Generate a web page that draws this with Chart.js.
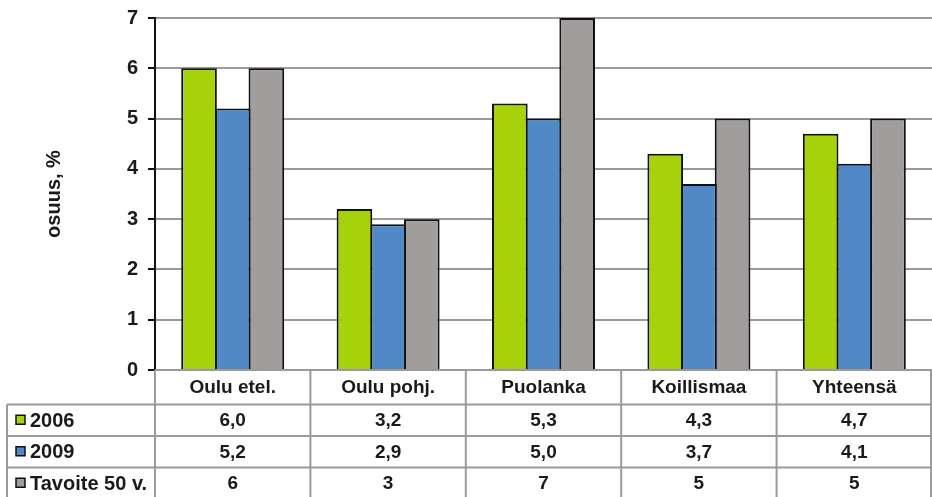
<!DOCTYPE html>
<html>
<head>
<meta charset="utf-8">
<script src="https://cdn.jsdelivr.net/npm/chart.js@4/dist/chart.umd.min.js"></script>
<style>
html,body{margin:0;padding:0;background:#fff;}
#wrap{position:relative;width:932px;height:497px;}
</style>
</head>
<body>
<div id="wrap"><canvas id="c" width="932" height="497"></canvas></div>
<script>
const categories = ["Oulu etel.", "Oulu pohj.", "Puolanka", "Koillismaa", "Yhteensä"];
const seriesNames = ["2006", "2009", "Tavoite 50 v."];
const values2006 = [6.0, 3.2, 5.3, 4.3, 4.7];
const values2009 = [5.2, 2.9, 5.0, 3.7, 4.1];
const valuesTarget = [6, 3, 7, 5, 5];
const tableLabels2006 = ["6,0", "3,2", "5,3", "4,3", "4,7"];
const tableLabels2009 = ["5,2", "2,9", "5,0", "3,7", "4,1"];
const tableLabelsTarget = ["6", "3", "7", "5", "5"];
const yTicks = [0, 1, 2, 3, 4, 5, 6, 7];
const yTitle = "osuus, %";

const colors = ["#a6d20c", "#5189c6", "#a09d9c"];
const FONT = "'Liberation Sans', Arial, sans-serif";

const tablePlugin = {
  id: 'dataTable',
  afterDraw(chart) {
    const ctx = chart.ctx;
    const area = chart.chartArea;
    const xs = chart.scales.x;
    const n = categories.length;
    const w = (area.right - area.left) / n;
    const top = area.bottom;
    const rowsY = [top, 404.5, 436, 467.5, 499];
    const legendLeft = 7;
    ctx.save();
    ctx.strokeStyle = '#9a9a9a';
    ctx.lineWidth = 2;
    ctx.beginPath();
    ctx.moveTo(area.left, top); ctx.lineTo(area.right, top);
    for (let r = 1; r < rowsY.length - 1; r++) {
      ctx.moveTo(legendLeft, rowsY[r]); ctx.lineTo(area.right, rowsY[r]);
    }
    for (let i = 0; i <= n; i++) {
      const x = Math.min(area.left + i * w, area.right - 1);
      ctx.moveTo(x, top); ctx.lineTo(x, 497);
    }
    ctx.moveTo(legendLeft, rowsY[1]); ctx.lineTo(legendLeft, 497);
    ctx.stroke();

    ctx.fillStyle = '#1a1a1a';
    ctx.font = 'bold 19px ' + FONT;
    ctx.textAlign = 'center';
    ctx.textBaseline = 'middle';
    const rows = [tableLabels2006, tableLabels2009, tableLabelsTarget];
    for (let i = 0; i < n; i++) {
      const cx = xs.getPixelForValue(i);
      ctx.fillText(categories[i], cx, (rowsY[0] + rowsY[1]) / 2 + 1);
      for (let r = 0; r < 3; r++) {
        ctx.fillText(rows[r][i], cx, (rowsY[r + 1] + rowsY[r + 2]) / 2 + 1);
      }
    }
    ctx.textAlign = 'left';
    ctx.font = 'bold 20px ' + FONT;
    for (let r = 0; r < 3; r++) {
      const cy = (rowsY[r + 1] + rowsY[r + 2]) / 2;
      ctx.fillStyle = colors[r];
      ctx.fillRect(16, cy - 5, 9, 9);
      ctx.strokeStyle = '#111';
      ctx.lineWidth = 1.5;
      ctx.strokeRect(16, cy - 5, 9, 9);
      ctx.fillStyle = '#1a1a1a';
      ctx.fillText(seriesNames[r], 30, cy + 1);
    }
    ctx.restore();
  }
};

new Chart(document.getElementById('c'), {
  type: 'bar',
  data: {
    labels: categories,
    datasets: [
      { label: seriesNames[0], data: values2006, backgroundColor: colors[0] },
      { label: seriesNames[1], data: values2009, backgroundColor: colors[1] },
      { label: seriesNames[2], data: valuesTarget, backgroundColor: colors[2] }
    ]
  },
  options: {
    responsive: false,
    animation: false,
    layout: { padding: { top: 18, bottom: 127, left: 0, right: 0 } },
    datasets: {
      bar: {
        borderColor: '#111',
        borderWidth: 2,
        categoryPercentage: 0.65,
        barPercentage: 1.059
      }
    },
    plugins: { legend: { display: false }, tooltip: { enabled: false } },
    scales: {
      x: { display: false, offset: true },
      y: {
        min: 0, max: 7,
        afterFit(scale) { scale.width = 155; scale.paddingTop = 0; scale.paddingBottom = 0; },
        afterBuildTicks(scale) { scale.ticks = yTicks.map(v => ({ value: v })); },
        grid: { color: '#9a9a9a', lineWidth: 2, tickColor: '#111', tickLength: 7, drawTicks: true },
        border: { color: '#111', width: 2 },
        ticks: {
          color: '#1a1a1a', padding: 10,
          font: { family: FONT, size: 20, weight: 'bold' },
          callback: v => String(v)
        },
        title: {
          display: true, text: yTitle, color: '#1a1a1a',
          font: { family: FONT, size: 20, weight: 'bold' },
          padding: { top: 42, bottom: 0 }
        }
      }
    }
  },
  plugins: [tablePlugin]
});
</script>
</body>
</html>
